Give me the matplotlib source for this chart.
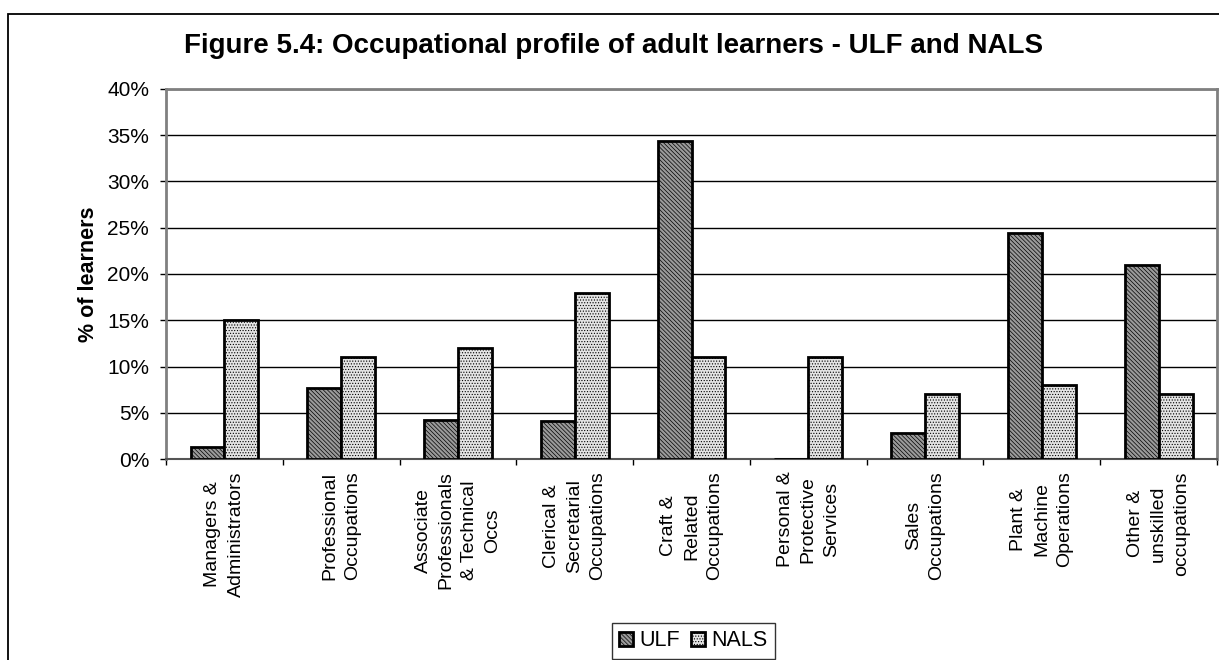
import numpy as np
import matplotlib.pyplot as plt
from matplotlib.patches import Rectangle

plt.rcParams['font.family'] = ['Liberation Sans', 'DejaVu Sans']
plt.rcParams['hatch.linewidth'] = 0.5

categories = ['Managers &\nAdministrators', 'Professional\nOccupations',
              'Associate\nProfessionals\n& Technical\nOccs',
              'Clerical &\nSecretarial\nOccupations', 'Craft &\nRelated\nOccupations',
              'Personal &\nProtective\nServices', 'Sales\nOccupations',
              'Plant &\nMachine\nOperations', 'Other &\nunskilled\noccupations']
ulf = [1.3, 7.7, 4.2, 4.1, 34.4, 0.0, 2.8, 24.4, 21.0]
nals = [15, 11, 12, 18, 11, 11, 7, 8, 7]
yticks = [0, 5, 10, 15, 20, 25, 30, 35, 40]

fig = plt.figure(figsize=(12.19, 6.6), dpi=100)
ax = fig.add_axes([0.1362, 0.3045, 0.8622, 0.5607])

# outer chart border (cut off at right and bottom like the reference)
fig.patches.append(Rectangle((8 / 1219, -0.05), 1.1, 646 / 660 + 0.05,
                             transform=fig.transFigure, fill=False,
                             edgecolor='black', linewidth=1.3, clip_on=False))

x = np.arange(len(categories))
w = 0.29
ax.bar(x - w / 2, ulf, w, facecolor='#9a9a9a', edgecolor='black',
       hatch='\\\\\\\\\\\\\\\\', linewidth=2, label='ULF', zorder=3)
ax.bar(x + w / 2, nals, w, facecolor='#e4e4e4', edgecolor='black', hatch='......',
       linewidth=2, label='NALS', zorder=3)

ax.set_xlim(-0.5, len(categories) - 0.5)
ax.set_ylim(0, 40)
ax.set_yticks(yticks)
ax.set_yticklabels([f'{v}%' for v in yticks], fontsize=15)
ax.yaxis.grid(True, color='black', linewidth=1)
ax.set_axisbelow(True)

ax.set_xticks(x)
ax.set_xticklabels(categories, rotation=90, fontsize=14, ha='center', va='top',
                   multialignment='center', linespacing=1.48)
ax.tick_params(axis='x', which='major', length=0, pad=9)
ax.set_xticks(np.arange(len(categories) + 1) - 0.5, minor=True)
ax.tick_params(axis='x', which='minor', length=4.3, width=1)
ax.tick_params(axis='y', length=4.3, width=1, pad=7.9)

for s in ['left', 'top', 'right']:
    ax.spines[s].set_color('#808080')
    ax.spines[s].set_linewidth(2)
ax.spines['bottom'].set_color('#555555')
ax.spines['bottom'].set_linewidth(1.5)

ax.set_ylabel('% of learners', fontsize=15.5, fontweight='bold', labelpad=6)
fig.text(0.503, 0.93, 'Figure 5.4: Occupational profile of adult learners - ULF and NALS',
         ha='center', va='center', fontsize=20, fontweight='bold')

leg = fig.legend(loc='center', bbox_to_anchor=(0.569, 0.029), ncol=2, fontsize=15.5,
                 frameon=True, fancybox=False, edgecolor='black', handlelength=0.65,
                 handleheight=0.65, handletextpad=0.3, columnspacing=0.5,
                 borderpad=0.35, borderaxespad=0)
leg.get_frame().set_linewidth(1)

fig.savefig('out.png', dpi=100)
